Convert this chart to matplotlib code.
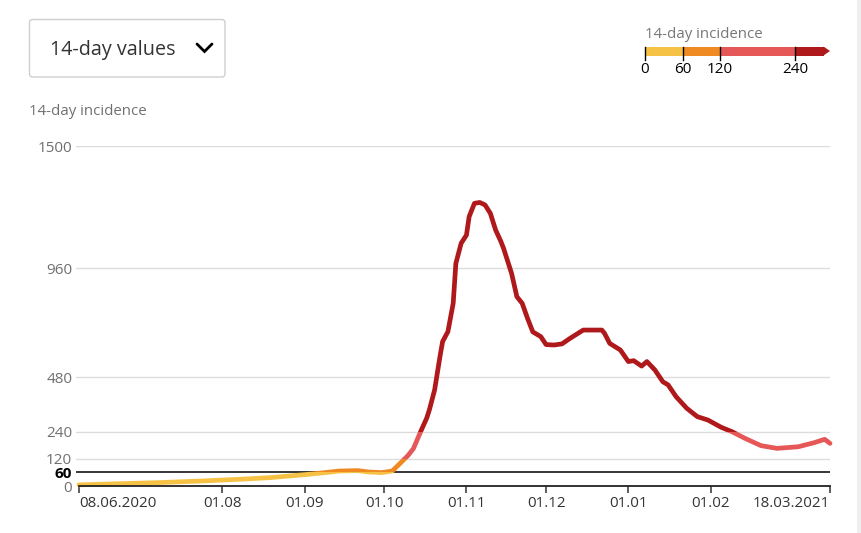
import matplotlib
matplotlib.use("Agg")
import matplotlib.pyplot as plt
import matplotlib.dates as mdates
import matplotlib.transforms as mtrans
from matplotlib.patches import Rectangle, FancyBboxPatch, Polygon
import pandas as pd

plt.rcParams['font.family'] = ['Open Sans', 'DejaVu Sans']

# ---------------- data ----------------
dates = ["2020-06-08", "2020-06-20", "2020-07-08", "2020-07-24", "2020-08-08",
         "2020-08-19", "2020-09-01", "2020-09-07", "2020-09-14", "2020-09-21",
         "2020-09-25", "2020-09-30", "2020-10-04", "2020-10-07", "2020-10-10",
         "2020-10-12", "2020-10-15", "2020-10-17", "2020-10-18", "2020-10-20",
         "2020-10-22", "2020-10-23", "2020-10-25", "2020-10-27", "2020-10-28",
         "2020-10-30", "2020-11-01", "2020-11-02", "2020-11-04", "2020-11-06",
         "2020-11-08", "2020-11-10", "2020-11-12", "2020-11-14", "2020-11-15",
         "2020-11-18", "2020-11-20", "2020-11-22", "2020-11-24", "2020-11-26",
         "2020-11-29", "2020-12-01", "2020-12-04", "2020-12-07", "2020-12-10",
         "2020-12-15", "2020-12-22", "2020-12-23", "2020-12-25", "2020-12-29",
         "2021-01-01", "2021-01-03", "2021-01-06", "2021-01-08", "2021-01-11",
         "2021-01-14", "2021-01-16", "2021-01-19", "2021-01-23", "2021-01-27",
         "2021-01-31", "2021-02-05", "2021-02-09", "2021-02-14", "2021-02-20",
         "2021-02-26", "2021-03-06", "2021-03-12", "2021-03-16", "2021-03-18"]
incidence = [5, 9, 15, 22, 30,
             37, 50, 57, 66, 68,
             62, 59, 66, 100, 135,
             165, 247, 299, 335, 424,
             570, 637, 681, 806, 982,
             1071, 1107, 1188, 1247, 1251,
             1240, 1203, 1129, 1078, 1048,
             938, 835, 806, 740, 680,
             659, 624, 622, 627, 651,
             688, 688, 674, 629, 600,
             549, 553, 529, 549, 512,
             460, 446, 394, 343, 306,
             291, 259, 240, 210, 178,
             166, 173, 191, 206, 188]

y_ticks = [0, 60, 120, 240, 480, 960, 1500]
x_tick_dates = ["2020-06-08", "2020-08-01", "2020-09-01", "2020-10-01", "2020-11-01",
                "2020-12-01", "2021-01-01", "2021-02-01", "2021-03-18"]
x_tick_labels = ["08.06.2020", "01.08", "01.09", "01.10", "01.11",
                 "01.12", "01.01", "01.02", "18.03.2021"]

thresholds = [0, 60, 120, 240]
band_colors = ["#F6C245", "#EF8A22", "#E65757", "#B0191C"]

dropdown_label = "14-day values"
legend_title = "14-day incidence"
axis_title = "14-day incidence"

# ---------------- figure ----------------
W, H = 862, 533
fig = plt.figure(figsize=(W / 100, H / 100), dpi=100)
fig.patch.set_facecolor("white")

def px_axes(x0, y0, x1, y1):
    return [x0 / W, 1 - y1 / H, (x1 - x0) / W, (y1 - y0) / H]

ax = fig.add_axes(px_axes(76.4, 146, 830, 486))
d = pd.to_datetime(dates)
xt = pd.to_datetime(x_tick_dates)

ax.set_xlim(d[0] - pd.Timedelta(days=1), d[-1])
ax.set_ylim(0, 1500)

# gridlines
for t in y_ticks:
    if t == 0:
        continue
    if t == 60:
        ax.axhline(t, color="black", lw=1.1, zorder=1)
    else:
        ax.axhline(t, color="#dcdcdc", lw=1.0, zorder=1)

# line coloured by value bands (clip to horizontal bands)
bounds = thresholds + [5000]
bounds[0] = -200
blend = mtrans.blended_transform_factory(ax.transAxes, ax.transData)
for i, col in enumerate(band_colors):
    lo, hi = bounds[i], bounds[i + 1]
    ln, = ax.plot(d, incidence, color=col, lw=3.4, solid_capstyle="round",
                  solid_joinstyle="round", zorder=3)
    rect = Rectangle((-0.05, lo), 1.1, hi - lo, transform=blend)
    ln.set_clip_path(rect)

# spines
for s in ["left", "right", "top"]:
    ax.spines[s].set_visible(False)
ax.spines["bottom"].set_color("#222222")
ax.spines["bottom"].set_linewidth(1.3)
ax.spines["bottom"].set_bounds(mdates.date2num(d[0]), mdates.date2num(d[-1]))
ax.spines["bottom"].set_zorder(4)

ax.set_yticks(y_ticks)
ax.set_yticklabels([str(t) for t in y_ticks])
ax.tick_params(axis="y", length=0, pad=3, labelsize=11, labelcolor="#707070")
for lab in ax.get_yticklabels():
    if lab.get_text() == "60":
        lab.set_color("black")
        lab.set_fontweight("bold")

ax.set_xticks(xt)
ax.set_xticklabels(x_tick_labels)
ax.tick_params(axis="x", length=5, width=1.1, color="#333333", pad=2.5,
               labelsize=10.9, labelcolor="#333333")
labs = ax.get_xticklabels()
labs[0].set_ha("left")
labs[-1].set_ha("right")

# ---------------- overlay (pixel coords) ----------------
ov2 = fig.add_axes([0, 0, 1, 1], zorder=5)
ov2.set_xlim(0, W)
ov2.set_ylim(H, 0)
ov2.axis("off")
ov2.patch.set_alpha(0)

# right grey strip
ov2.add_patch(Rectangle((857.5, 0), 5, H, facecolor="#efefef", edgecolor="none"))

# dropdown box
ov2.add_patch(FancyBboxPatch((29.5, 19.5), 195.5, 57.5,
                             boxstyle="round,pad=0,rounding_size=3",
                             facecolor="white", edgecolor="#cfcfcf", lw=1.0))
ov2.text(50, 50.5, dropdown_label, fontsize=14.2, color="#333333",
         ha="left", va="center")
ov2.plot([197, 204.5, 212], [44, 51.5, 44], color="black", lw=2.0,
         solid_capstyle="round", solid_joinstyle="miter")

# axis title
ov2.text(29, 111.5, axis_title, fontsize=10.8, color="#707070", ha="left", va="center")

# legend
leg_x = {0: 645, 60: 683, 120: 720, 240: 795}
bar_end = 824
tip = 830
ov2.text(645, 34.5, legend_title, fontsize=10.8, color="#777777", ha="left", va="center")
starts = [leg_x[t] for t in thresholds]
ends = starts[1:] + [bar_end]
for s, e, col in zip(starts, ends, band_colors):
    ov2.add_patch(Rectangle((s, 46.5), e - s, 9, facecolor=col, edgecolor="none"))
ov2.add_patch(Polygon([(bar_end - 0.5, 46.5), (tip, 51), (bar_end - 0.5, 55.5)],
                      closed=True, facecolor=band_colors[-1], edgecolor="none"))
for t in thresholds:
    x = leg_x[t]
    ov2.plot([x, x], [46.5, 60], color="black", lw=1.0)
    ov2.text(x, 69.5, str(t), fontsize=11, color="black", ha="center", va="center")

fig.savefig("out.png", dpi=100, facecolor="white")
